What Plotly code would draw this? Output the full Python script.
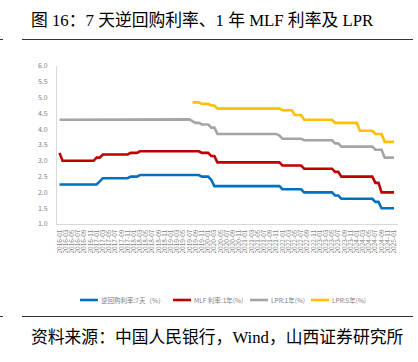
import plotly.graph_objects as go

# Monthly categories 2016-01 .. 2025-01
months = [f"{y}-{m:02d}" for y in range(2016, 2026) for m in range(1, 13)][:109]
tick_labels = months[::2]

# 7-day reverse repo rate (%)
rr7 = [
    2.25, 2.25, 2.25, 2.25, 2.25, 2.25, 2.25, 2.25, 2.25, 2.25, 2.25, 2.25,  # 2016
    2.25, 2.35, 2.45, 2.45, 2.45, 2.45, 2.45, 2.45, 2.45, 2.45, 2.45, 2.50,  # 2017
    2.50, 2.50, 2.55, 2.55, 2.55, 2.55, 2.55, 2.55, 2.55, 2.55, 2.55, 2.55,  # 2018
    2.55, 2.55, 2.55, 2.55, 2.55, 2.55, 2.55, 2.55, 2.55, 2.55, 2.50, 2.50,  # 2019
    2.50, 2.40, 2.20, 2.20, 2.20, 2.20, 2.20, 2.20, 2.20, 2.20, 2.20, 2.20,  # 2020
    2.20, 2.20, 2.20, 2.20, 2.20, 2.20, 2.20, 2.20, 2.20, 2.20, 2.20, 2.20,  # 2021
    2.10, 2.10, 2.10, 2.10, 2.10, 2.10, 2.10, 2.00, 2.00, 2.00, 2.00, 2.00,  # 2022
    2.00, 2.00, 2.00, 2.00, 2.00, 1.90, 1.90, 1.80, 1.80, 1.80, 1.80, 1.80,  # 2023
    1.80, 1.80, 1.80, 1.80, 1.80, 1.80, 1.70, 1.70, 1.50, 1.50, 1.50, 1.50,  # 2024
    1.50,                                                                    # 2025
]

# 1-year MLF rate (%)
mlf1 = [
    3.25, 3.00, 3.00, 3.00, 3.00, 3.00, 3.00, 3.00, 3.00, 3.00, 3.00, 3.00,  # 2016
    3.10, 3.10, 3.20, 3.20, 3.20, 3.20, 3.20, 3.20, 3.20, 3.20, 3.20, 3.25,  # 2017
    3.25, 3.25, 3.30, 3.30, 3.30, 3.30, 3.30, 3.30, 3.30, 3.30, 3.30, 3.30,  # 2018
    3.30, 3.30, 3.30, 3.30, 3.30, 3.30, 3.30, 3.30, 3.30, 3.30, 3.25, 3.25,  # 2019
    3.25, 3.15, 3.15, 2.95, 2.95, 2.95, 2.95, 2.95, 2.95, 2.95, 2.95, 2.95,  # 2020
    2.95, 2.95, 2.95, 2.95, 2.95, 2.95, 2.95, 2.95, 2.95, 2.95, 2.95, 2.95,  # 2021
    2.85, 2.85, 2.85, 2.85, 2.85, 2.85, 2.85, 2.75, 2.75, 2.75, 2.75, 2.75,  # 2022
    2.75, 2.75, 2.75, 2.75, 2.75, 2.65, 2.65, 2.50, 2.50, 2.50, 2.50, 2.50,  # 2023
    2.50, 2.50, 2.50, 2.50, 2.50, 2.50, 2.30, 2.30, 2.00, 2.00, 2.00, 2.00,  # 2024
    2.00,                                                                    # 2025
]

# 1-year LPR (%)
lpr1 = [
    4.30, 4.30, 4.30, 4.30, 4.30, 4.30, 4.30, 4.30, 4.30, 4.30, 4.30, 4.30,  # 2016
    4.30, 4.30, 4.30, 4.30, 4.30, 4.30, 4.30, 4.30, 4.30, 4.30, 4.30, 4.30,  # 2017
    4.30, 4.30, 4.30, 4.31, 4.31, 4.31, 4.31, 4.31, 4.31, 4.31, 4.31, 4.31,  # 2018
    4.31, 4.31, 4.31, 4.31, 4.31, 4.31, 4.31, 4.25, 4.20, 4.20, 4.15, 4.15,  # 2019
    4.15, 4.05, 4.05, 3.85, 3.85, 3.85, 3.85, 3.85, 3.85, 3.85, 3.85, 3.85,  # 2020
    3.85, 3.85, 3.85, 3.85, 3.85, 3.85, 3.85, 3.85, 3.85, 3.85, 3.85, 3.80,  # 2021
    3.70, 3.70, 3.70, 3.70, 3.70, 3.70, 3.70, 3.65, 3.65, 3.65, 3.65, 3.65,  # 2022
    3.65, 3.65, 3.65, 3.65, 3.65, 3.55, 3.55, 3.45, 3.45, 3.45, 3.45, 3.45,  # 2023
    3.45, 3.45, 3.45, 3.45, 3.45, 3.45, 3.35, 3.35, 3.35, 3.10, 3.10, 3.10,  # 2024
    3.10,                                                                    # 2025
]

# 5-year LPR (%), starts 2019-08
lpr5 = [None] * 43 + [
    4.85, 4.85, 4.85, 4.80, 4.80,                                            # 2019-08..12
    4.80, 4.75, 4.75, 4.65, 4.65, 4.65, 4.65, 4.65, 4.65, 4.65, 4.65, 4.65,  # 2020
    4.65, 4.65, 4.65, 4.65, 4.65, 4.65, 4.65, 4.65, 4.65, 4.65, 4.65, 4.65,  # 2021
    4.60, 4.60, 4.60, 4.60, 4.45, 4.45, 4.45, 4.30, 4.30, 4.30, 4.30, 4.30,  # 2022
    4.30, 4.30, 4.30, 4.30, 4.30, 4.20, 4.20, 4.20, 4.20, 4.20, 4.20, 4.20,  # 2023
    4.20, 3.95, 3.95, 3.95, 3.95, 3.95, 3.85, 3.85, 3.85, 3.60, 3.60, 3.60,  # 2024
    3.60,                                                                    # 2025
]

series_names = ["逆回购利率:7天（%）", "MLF 利率:1年(%)", "LPR:1年(%)", "LPR:5年(%)"]
series_values = [rr7, mlf1, lpr1, lpr5]
series_colors = ["#0070C0", "#C00000", "#A5A5A5", "#FFC000"]

W, H = 418, 362
L, R, T, B = 57, 398, 66, 224

# legend swatch start positions (px)
legend_x = [80, 173, 250, 311]
legend_y = 300
swatch_len = 18


def px(x):
    return (x - L) / (R - L)


def py(y):
    return (B - y) / (B - T)


fig = go.Figure()
for name, vals, color in zip(series_names, series_values, series_colors):
    fig.add_trace(go.Scatter(
        x=months, y=vals, name=name, mode="lines",
        line=dict(color=color, width=2.6), connectgaps=False,
    ))

axis_font = dict(family="Noto Sans CJK SC, Liberation Sans, sans-serif", size=7, color="#7F7F7F")

fig.update_layout(
    width=W, height=H,
    margin=dict(l=L, r=W - R, t=T, b=H - B, autoexpand=False),
    paper_bgcolor="white", plot_bgcolor="white",
    showlegend=False,
    xaxis=dict(
        type="category", range=[-0.8, 109.3], automargin=False,
        tickmode="array", tickvals=tick_labels, ticktext=tick_labels,
        tickangle=-90, tickfont=dict(axis_font, size=6.5),
        showgrid=False, showline=True, linecolor="#D9D9D9", linewidth=1,
        ticks="", zeroline=False, ticklabelstandoff=2,
    ),
    yaxis=dict(
        range=[1.0, 6.0], dtick=0.5, tickformat=".1f", automargin=False,
        tickfont=axis_font, showgrid=False, showline=True,
        linecolor="#D9D9D9", linewidth=1, ticks="", zeroline=False,
        ticklabelstandoff=7,
    ),
)

# Custom legend
for name, color, lx in zip(series_names, series_colors, legend_x):
    fig.add_shape(type="line", xref="paper", yref="paper",
                  x0=px(lx), x1=px(lx + swatch_len), y0=py(legend_y), y1=py(legend_y),
                  line=dict(color=color, width=2.6))
    fig.add_annotation(text=name, xref="paper", yref="paper",
                       x=px(lx + swatch_len + 1), y=py(legend_y),
                       xanchor="left", yanchor="middle", showarrow=False,
                       font=dict(family="Noto Sans CJK SC, sans-serif", size=6.5, color="#7F7F7F"))

# Title and source text
text_font = dict(family="Liberation Serif, Noto Sans CJK SC, serif", size=16.8, color="#000000")
fig.add_annotation(
    text="图 16：7 天逆回购利率、1 年 MLF 利率及 LPR",
    xref="paper", yref="paper", x=px(29), y=py(20.5), xanchor="left", yanchor="middle",
    showarrow=False, font=text_font,
)
fig.add_annotation(
    text="资料来源：中国人民银行，Wind，山西证券研究所",
    xref="paper", yref="paper", x=px(29), y=py(337), xanchor="left", yanchor="middle",
    showarrow=False, font=text_font,
)

# Rules above and below
for yy in (39.5, 316.5):
    fig.add_shape(type="line", xref="paper", yref="paper",
                  x0=px(22), x1=px(413), y0=py(yy), y1=py(yy),
                  line=dict(color="#333333", width=1))
    fig.add_shape(type="line", xref="paper", yref="paper",
                  x0=px(0), x1=px(3), y0=py(yy), y1=py(yy),
                  line=dict(color="#333333", width=1))

fig.write_html(
    "out.html",
    config={"displayModeBar": False},
    post_script="document.body.style.margin='0';document.body.style.padding='0';",
)
